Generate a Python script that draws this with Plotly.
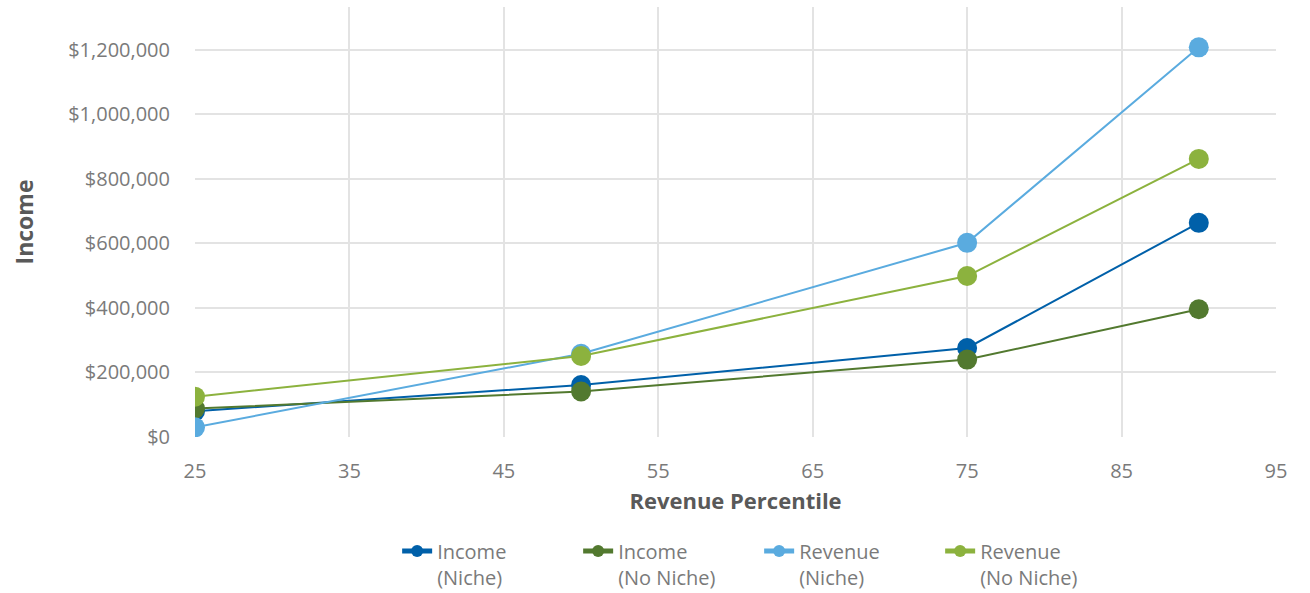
import plotly.graph_objects as go

percentiles = [25, 50, 75, 90]
income_niche = [80000, 161000, 276000, 664000]
income_no_niche = [88000, 141000, 240000, 396000]
revenue_niche = [30000, 258000, 602000, 1208000]
revenue_no_niche = [125000, 251000, 499000, 862000]

series = [
    ("Income<br>(Niche)", income_niche, "#0060a9"),
    ("Income<br>(No Niche)", income_no_niche, "#52792f"),
    ("Revenue<br>(Niche)", revenue_niche, "#5aabdf"),
    ("Revenue<br>(No Niche)", revenue_no_niche, "#8cb23e"),
]

FONT = "Open Sans, Lato, DejaVu Sans, sans-serif"

fig = go.Figure()
for name, vals, col in series:
    fig.add_trace(go.Scatter(
        x=percentiles, y=vals, name=name, mode="lines+markers",
        line=dict(color=col, width=2),
        marker=dict(color=col, size=20),
    ))

fig.update_layout(
    width=1310, height=593,
    margin=dict(l=195, r=34, t=7, b=156, autoexpand=False),
    paper_bgcolor="white", plot_bgcolor="white",
    font=dict(family=FONT, color="#7a7a7a", size=20),
    xaxis=dict(
        range=[25, 95], tickmode="linear", tick0=25, dtick=10,
        showgrid=True, gridcolor="#e3e3e3", gridwidth=1.5,
        zeroline=False, showline=False, automargin=False,
        tickfont=dict(size=20, color="#7a7a7a"),
        title=dict(text="<b>Revenue Percentile</b>", font=dict(size=22, color="#595959"), standoff=10),
        ticks="outside", ticklen=16, tickcolor="white",
    ),
    yaxis=dict(
        range=[0, 1333000], tickmode="linear", tick0=0, dtick=200000,
        tickprefix="$", tickformat=",d",
        showgrid=True, gridcolor="#e3e3e3", gridwidth=1.5,
        zeroline=False, showline=False, automargin=False,
        tickfont=dict(size=20, color="#7a7a7a"),
        title=dict(text="<b>Income</b>", font=dict(size=23, color="#595959"), standoff=28),
        ticks="outside", ticklen=20, tickcolor="white",
    ),
    legend=dict(
        orientation="h", x=0.187, xanchor="left", y=-0.22, yanchor="top",
        font=dict(size=20, color="#7a7a7a"), valign="top",
        itemsizing="constant", entrywidth=136,
    ),
    showlegend=True,
)

fig.write_html("out.html")
